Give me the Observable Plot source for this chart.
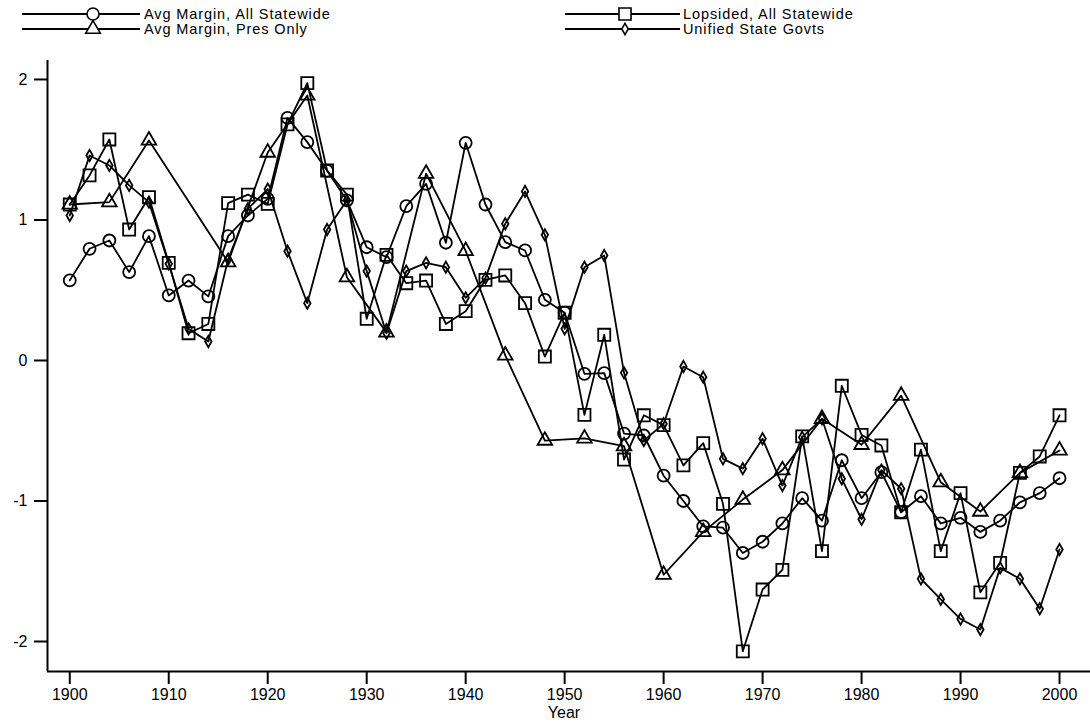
<!DOCTYPE html>
<html><head><meta charset="utf-8">
<script src="https://cdn.jsdelivr.net/npm/d3@7"></script>
<script src="https://cdn.jsdelivr.net/npm/@observablehq/plot@0.6"></script>
<style>
body{margin:0;background:#fff;font-family:"Liberation Sans",Arial,sans-serif;}
#legend{position:relative;height:40px;width:1090px;}
.item{position:absolute;height:14px;}
.item svg{position:absolute;left:0;top:0;overflow:visible;}
.item span{position:absolute;top:0px;font-size:14.5px;line-height:14px;letter-spacing:0.9px;white-space:nowrap;color:#000;}
#chart svg{display:block;}
</style></head><body>
<div id="legend"></div><div id="chart"></div>
<script>
const years = [1900,1902,1904,1906,1908,1910,1912,1914,1916,1918,1920,1922,1924,1926,1928,1930,1932,1934,1936,1938,1940,1942,1944,1946,1948,1950,1952,1954,1956,1958,1960,1962,1964,1966,1968,1970,1972,1974,1976,1978,1980,1982,1984,1986,1988,1990,1992,1994,1996,1998,2000];
const presYears = [1900,1904,1908,1916,1920,1924,1928,1932,1936,1940,1944,1948,1952,1956,1960,1964,1968,1972,1976,1980,1984,1988,1992,1996,2000];
const avgMarginAll = [0.57,0.795,0.854,0.629,0.885,0.463,0.569,0.456,0.885,1.032,1.15,1.727,1.554,1.35,1.14,0.806,0.735,1.098,1.257,0.838,1.549,1.11,0.842,0.783,0.432,0.34,-0.095,-0.09,-0.52,-0.534,-0.82,-1.00,-1.18,-1.19,-1.37,-1.29,-1.16,-0.98,-1.14,-0.71,-0.98,-0.795,-1.08,-0.966,-1.16,-1.12,-1.22,-1.14,-1.01,-0.944,-0.838];
const lopsidedAll = [1.11,1.317,1.573,0.932,1.162,0.695,0.194,0.26,1.12,1.18,1.115,1.68,1.974,1.352,1.18,0.297,0.752,0.55,0.569,0.26,0.351,0.574,0.605,0.408,0.028,0.34,-0.387,0.183,-0.705,-0.39,-0.46,-0.747,-0.588,-1.02,-2.07,-1.63,-1.49,-0.54,-1.357,-0.18,-0.53,-0.605,-1.08,-0.634,-1.357,-0.944,-1.65,-1.44,-0.80,-0.683,-0.39];
const unifiedGovts = [1.032,1.459,1.388,1.246,1.127,0.688,0.225,0.135,0.72,1.08,1.22,0.778,0.408,0.932,1.14,0.636,0.194,0.636,0.695,0.664,0.446,0.586,0.973,1.203,0.894,0.225,0.664,0.747,-0.088,-0.57,-0.45,-0.043,-0.119,-0.70,-0.77,-0.557,-0.89,-0.546,-0.415,-0.842,-1.13,-0.78,-0.913,-1.554,-1.70,-1.84,-1.915,-1.476,-1.554,-1.767,-1.345];
const avgMarginPres = [1.11,1.127,1.566,0.70,1.48,1.886,0.593,0.20,1.33,0.78,0.036,-0.57,-0.555,-0.61,-1.525,-1.22,-0.99,-0.78,-0.415,-0.60,-0.25,-0.866,-1.075,-0.80,-0.64];
const xTicks = [1900,1910,1920,1930,1940,1950,1960,1970,1980,1990,2000];
const yTicks = [-2,-1,0,1,2];
const seriesNames = ["Avg Margin, All Statewide","Lopsided, All Statewide","Avg Margin, Pres Only","Unified State Govts"];

const symR = {circle:6, square:6.8, triangle:5.4, diamond:3.4};
const series = [
  {name:seriesNames[0], xs:years, ys:avgMarginAll, symbol:"circle"},
  {name:seriesNames[1], xs:years, ys:lopsidedAll, symbol:"square"},
  {name:seriesNames[2], xs:presYears, ys:avgMarginPres, symbol:"triangle"},
  {name:seriesNames[3], xs:years, ys:unifiedGovts, symbol:"diamond"}
];
const rows = s => s.xs.map((yr,i)=>({year:yr, v:s.ys[i]}));

const xDomain = [1897.75, 2003.13];
const yDomain = [-2.2135, 2.135];
const fmt = d => d < 0 ? "-" + Math.abs(d) : String(d);

const marks = [
  Plot.axisX({ticks:xTicks, tickSize:13, tickPadding:4, tickFormat:d=>String(d), fontSize:16, label:null, strokeWidth:2}),
  Plot.axisY({ticks:yTicks, tickSize:13, tickPadding:7, tickFormat:fmt, fontSize:16, label:null, strokeWidth:2}),
  Plot.ruleX([xDomain[0]], {strokeWidth:2}),
  Plot.ruleY([yDomain[0]], {strokeWidth:2}),
  Plot.text(["Year"], {frameAnchor:"bottom", dy:41, dx:-5, lineAnchor:"middle", fontSize:16, text:d=>d})
];
for (const s of series) {
  const d = rows(s);
  marks.push(Plot.line(d, {x:"year", y:"v", stroke:"black", strokeWidth:1.8}));
  marks.push(Plot.dot(d, {x:"year", y:"v", symbol:()=>s.symbol, r:symR[s.symbol], stroke:"black", fill:"none", strokeWidth:1.8}));
}
const chart = Plot.plot({
  width:1090, height:687, marginLeft:47, marginRight:0, marginTop:20, marginBottom:56,
  x:{domain:xDomain}, y:{domain:yDomain},
  symbol:{type:"identity"},
  style:{fontFamily:"'Liberation Sans', Arial, sans-serif", fontSize:"16px", color:"black", background:"white", overflow:"visible"},
  marks
});
document.getElementById("chart").appendChild(chart);

// legend
const legendPos = [
  {left:22, top:7, lineW:118, mark:71, textX:122},
  {left:565, top:7, lineW:115, mark:60, textX:118},
  {left:22, top:22, lineW:118, mark:71, textX:122},
  {left:565, top:22, lineW:115, mark:60, textX:118}
];
const symMap = {circle:d3.symbolCircle, square:d3.symbolSquare, triangle:d3.symbolTriangle, diamond:d3.symbolDiamond};
const legend = document.getElementById("legend");
series.forEach((s,i)=>{
  const p = legendPos[i];
  const div = document.createElement("div");
  div.className = "item";
  div.style.left = p.left + "px"; div.style.top = p.top + "px";
  const r = symR[s.symbol];
  const path = d3.symbol(symMap[s.symbol], r*r*Math.PI)();
  div.innerHTML = `<svg width="${p.lineW}" height="14"><line x1="0" x2="${p.lineW}" y1="7" y2="7" stroke="black" stroke-width="1.8"/><path d="${path}" transform="translate(${p.mark},7)" fill="white" stroke="black" stroke-width="1.6"/></svg><span style="left:${p.textX}px">${s.name}</span>`;
  legend.appendChild(div);
});
</script>
</body></html>
